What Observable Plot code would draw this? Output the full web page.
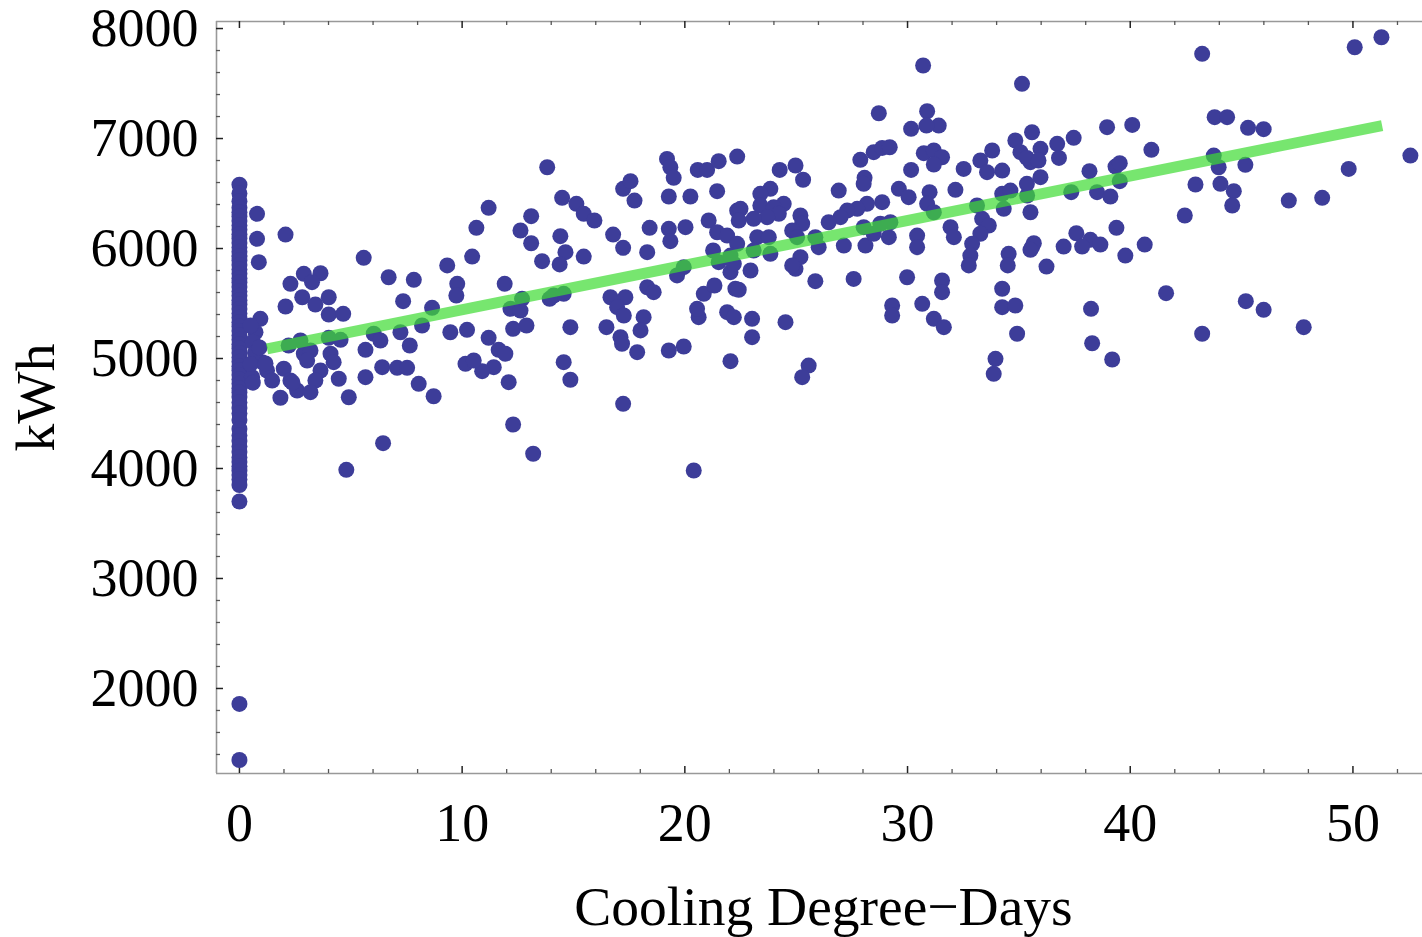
<!DOCTYPE html>
<html>
<head>
<meta charset="utf-8">
<script src="https://cdn.jsdelivr.net/npm/d3@7"></script>
<script src="https://cdn.jsdelivr.net/npm/@observablehq/plot@0.6"></script>
<style>
  html, body { margin: 0; padding: 0; background: #fff; }
  #chart svg { display: block; }
</style>
</head>
<body>
<div id="chart"></div>
<script>
// ---- Data ----
// Points with 0 cooling degree-days (kWh values)
const zeroCddKwh = [6580, 6500, 6430, 6370, 6330, 6290, 6250, 6210, 6170, 6130, 6090, 6050, 6010, 5970, 5930,
  5890, 5850, 5810, 5770, 5730, 5690, 5650, 5610, 5570, 5530, 5490, 5450, 5410, 5370, 5330, 5290, 5250,
  5210, 5170, 5130, 5090, 5050, 5010, 4970, 4930, 4890, 4850, 4810, 4770, 4730, 4690, 4650, 4600, 4550,
  4500, 4440, 4360, 4300, 4250, 4200, 4150, 4100, 4060, 4020, 3980, 3940, 3900, 3850, 3700, 1860, 1350];

// Points with positive cooling degree-days
const cdd = [
  0.79, 0.79, 0.87, 2.07, 0.94, 0.72, 5.58, 6.70, 7.83, 9.33, 2.89, 3.64, 3.26, 2.29, 2.82, 3.41, 4.01, 2.07,
  4.01, 4.66, 7.35, 8.65, 8.20, 9.47, 7.23, 6.03, 6.33, 5.66, 7.65, 2.74, 2.21, 4.01, 4.54, 2.89, 3.19, 3.04,
  4.09, 4.23, 1.02, 1.24, 1.99, 3.64, 3.41, 2.29, 1.47, 2.59, 3.19, 1.84, 4.46, 5.66, 6.41, 7.08, 7.53, 8.05,
  8.72, 4.91, 6.45, 4.80, 0.57, 0.5, 0.6, 0.7, 0.5, 0.9, 1.17, 2.38, 0.6,
  13.82, 11.19, 10.64, 10.45, 9.78, 9.74, 11.91, 12.62, 13.10, 13.10, 13.59, 14.41, 14.49, 15.13, 15.46, 15.94,
  14.64, 14.38, 15.46, 16.78, 17.23, 17.23, 17.56, 17.74, 18.42, 18.31, 19.28, 19.35, 20.03, 19.20, 19.35,
  19.50, 19.28, 20.25, 20.58, 21.00, 21.52, 22.35, 21.45, 21.07, 21.45, 21.90, 22.35, 21.27, 21.52, 22.05,
  19.95, 19.65, 18.31, 18.60, 16.66, 17.33, 16.96, 17.26, 18.15, 18.01, 16.48, 17.11, 17.18, 17.86, 19.28,
  19.95, 22.05, 20.62, 20.55, 20.85, 21.33, 21.90, 22.20, 22.27, 20.40, 17.23, 14.86, 14.56, 14.86, 14.56,
  14.11, 13.93, 12.69, 12.17, 12.62, 12.29, 12.89, 11.19, 11.64, 11.94, 11.42, 10.90, 10.15, 10.52, 12.09,
  10.22, 12.29, 13.19,
  28.71, 30.88, 31.40, 30.16, 30.85, 24.26, 24.97, 25.31, 27.88, 28.48, 28.86, 29.20, 28.07, 28.03, 30.16,
  30.73, 31.18, 31.55, 31.18, 32.52, 33.27, 33.80, 33.57, 34.25, 34.84, 35.59, 35.07, 35.52, 26.91, 29.61,
  30.05, 30.99, 32.15, 30.88, 31.18, 33.12, 34.25, 34.62, 35.37, 34.32, 35.52, 33.35, 33.65, 33.27, 32.90,
  32.82, 32.75, 31.93, 32.08, 30.43, 30.43, 29.16, 29.23, 28.78, 28.86, 28.18, 27.74, 27.29, 26.99, 26.46,
  28.03, 28.11, 27.14, 28.48, 26.01, 25.86, 25.19, 25.27, 24.82, 25.04, 24.44, 23.84, 23.39, 23.39, 23.99,
  24.22, 23.70, 22.50, 22.42, 23.09, 23.25, 23.77, 22.35, 23.84, 23.09, 22.05, 22.20, 22.95, 22.42, 24.97,
  25.19, 25.86, 27.58, 29.98, 31.55, 31.55, 29.31, 29.31, 30.66, 31.18, 31.63, 34.54, 34.50, 35.59, 34.25,
  34.25, 34.84, 34.92, 33.95, 33.87, 23.02, 23.02, 24.52, 25.56, 25.27, 24.82, 30.70,
  43.23, 50.08, 51.28, 35.14, 43.79, 44.35, 45.29, 45.99, 38.96, 40.09, 37.46, 36.72, 35.97, 36.80, 35.36,
  35.88, 40.95, 52.58, 49.81, 43.75, 43.97, 45.17, 44.05, 44.65, 44.58, 42.93, 42.45, 47.12, 48.62, 38.17,
  39.34, 39.53, 39.53, 38.51, 39.11, 37.35, 35.97, 35.36, 37.58, 38.21, 38.66, 37.84, 37.01, 35.67, 35.52,
  36.24, 39.38, 39.78, 40.65, 41.61, 38.24, 38.29, 39.19, 43.23, 45.19, 45.99, 47.79
];
const kwh = [
  6315, 6088, 5876, 6127, 5361, 5239, 5915, 5739, 5715, 5846, 5770, 5775, 5694, 5679, 5557, 5491, 5557, 5473,
  5400, 5406, 5521, 5461, 5300, 5239, 5239, 5225, 5164, 5079, 5118, 5164, 5118, 5188, 5170, 5043, 5073, 4982,
  5043, 4967, 4967, 4891, 4907, 4891, 4800, 4800, 4800, 4709, 4694, 4643, 4816, 4830, 4921, 4915, 4915, 4770,
  4657, 4648, 4230, 3988, 4830, 5300, 5150, 5050, 4950, 5100, 4955, 4782, 4780,
  6739, 6370, 6188, 5927, 5679, 5573, 5679, 6164, 6294, 6048, 5885, 6112, 6461, 6406, 6315, 6255,
  5967, 5855, 5927, 6127, 6006, 6543, 6612, 6436, 6188, 5967, 6179, 6067, 6194, 6815, 6739,
  6643, 6473, 6473, 6715, 6715, 6794, 6836, 6521, 6255, 6148, 6118, 6345, 5982, 5876, 5785,
  5830, 5755, 5648, 5603, 5557, 5557, 5467, 5391, 5376, 5255, 5285, 5194, 5134, 5058, 5073,
  5109, 4976, 5376, 5452, 5588, 5664, 5421, 5376, 5634, 3982, 4588, 4807, 4967, 5285, 5588,
  5573, 5543, 5543, 5452, 5436, 5270, 5300, 5188, 5079, 5043, 4921, 4885, 4952, 4982, 4785,
  5261, 4400, 4134,
  7230, 7248, 7118, 7088, 7118, 6715, 6755, 6625, 6806, 6876, 6915, 6921, 6643, 6588, 6715,
  6867, 6891, 6830, 6764, 6724, 6800, 6891, 6694, 6709, 6982, 7057, 6876, 6785, 6527, 6543,
  6467, 6512, 6534, 6406, 6330, 6391, 6497, 6527, 6482, 6361, 6330, 6270, 6209, 6134, 6043,
  5936, 5846, 6194, 6103, 6118, 6012, 6103, 6239, 6225, 6421, 6406, 6361, 6345, 6285, 6239,
  6194, 6027, 6027, 6134, 6012, 6103, 6300, 6225, 6164, 6103, 6406, 6543, 6497, 6391, 6376,
  6315, 6285, 6361, 6255, 6270, 6103, 6103, 6043, 5952, 5982, 5936, 5861, 5800, 5625, 5815,
  5921, 5703, 5724, 5739, 5709, 5603, 5482, 5391, 5497, 5361, 5285, 5952, 5846, 6012, 5634,
  5467, 5482, 5225, 4997, 4861, 5361, 5194, 5330, 4936, 4830, 5846, 7664,
  7770, 7830, 7921, 7497, 7194, 7194, 7097, 7085, 7103, 7124, 7006, 6952, 6906, 6824, 6824,
  6800, 6897, 6845, 6724, 6845, 6739, 6761, 6588, 6521, 6391, 6582, 6300, 6436, 6461, 6703,
  6745, 6776, 6612, 6512, 6473, 6512, 6649, 6588, 6139, 6079, 6036, 6018, 6018, 6048, 5988,
  5836, 6188, 5936, 6036, 5594, 5452, 5139, 4991, 5225, 5521, 5443, 5285
];

// Fitted line end points
const fitCdd = [1.24, 51.31];
const fitKwh = [5088, 7118];

// Axis ticks
const xMajor = [0, 10, 20, 30, 40, 50];
const xMinor = [2, 4, 6, 8, 12, 14, 16, 18, 22, 24, 26, 28, 32, 34, 36, 38, 42, 44, 46, 48, 52];
const yMajor = [2000, 3000, 4000, 5000, 6000, 7000, 8000];
const yMinor = [1400, 1600, 1800, 2200, 2400, 2600, 2800, 3200, 3400, 3600, 3800, 4200, 4400, 4600, 4800,
  5200, 5400, 5600, 5800, 6200, 6400, 6600, 6800, 7200, 7400, 7600, 7800];

// ---- Build tables ----
const points = zeroCddKwh.map(v => ({cdd: 0, kwh: v}))
  .concat(cdd.map((c, i) => ({cdd: c, kwh: kwh[i]})));
const fit = fitCdd.map((c, i) => ({cdd: c, kwh: fitKwh[i]}));

const W = 1422, H = 937;
const mL = 216, mR = 0, mT = 21, mB = 164;
const plotW = W - mL - mR, plotH = H - mT - mB;
const xDomain = [-1.03, 53.3];
const yDomain = [1227, 8064];
const majorLen = 7, minorLen = 4;
const fontFam = "'Liberation Serif', 'Times New Roman', serif";

const chart = Plot.plot({
  width: W, height: H,
  marginLeft: mL, marginRight: mR, marginTop: mT, marginBottom: mB,
  style: {fontFamily: fontFam, fontSize: "54px", background: "#fff", color: "#000", overflow: "hidden"},
  x: {domain: xDomain, range: [mL, mL + (53.3 + 1.03) * 22.27]},
  y: {domain: yDomain},
  marks: [
    // frame lines (left, top, bottom)
    Plot.ruleX([xDomain[0]], {stroke: "#999", strokeWidth: 1.6}),
    Plot.ruleY([yDomain[0], yDomain[1]], {stroke: "#999", strokeWidth: 1.6}),
    // bottom ticks
    Plot.ruleX(xMinor, {x: d => d, insetTop: plotH - minorLen, stroke: "#555", strokeWidth: 1.3}),
    Plot.ruleX(xMajor, {x: d => d, insetTop: plotH - majorLen, stroke: "#222", strokeWidth: 1.5}),
    // top ticks
    Plot.ruleX(xMinor, {x: d => d, insetBottom: plotH - minorLen, stroke: "#555", strokeWidth: 1.3}),
    Plot.ruleX(xMajor, {x: d => d, insetBottom: plotH - majorLen, stroke: "#222", strokeWidth: 1.5}),
    // left ticks
    Plot.ruleY(yMinor, {y: d => d, insetRight: plotW - minorLen, stroke: "#555", strokeWidth: 1.3}),
    Plot.ruleY(yMajor, {y: d => d, insetRight: plotW - majorLen, stroke: "#222", strokeWidth: 1.5}),
    // tick labels
    Plot.axisX({ticks: xMajor, tickSize: 0, tickPadding: 29, tickFormat: d => String(d), label: null, fontSize: 54}),
    Plot.axisY({ticks: yMajor, tickSize: 0, tickPadding: 18, tickFormat: d => String(d), label: null, fontSize: 54}),
    // axis titles
    Plot.text(["Cooling Degree\u2212Days"], {frameAnchor: "bottom", dy: 134, dx: 4, fontSize: 55.5, text: d => d, textAnchor: "middle", lineAnchor: "middle"}),
    Plot.text(["kWh"], {frameAnchor: "left", dx: -180, rotate: -90, fontSize: 55.5, text: d => d, textAnchor: "middle", lineAnchor: "middle"}),
    // data
    Plot.dot(points, {x: "cdd", y: "kwh", r: 8, fill: "#3d3d99", stroke: null}),
    Plot.line(fit, {x: "cdd", y: "kwh", stroke: "#3ddc32", strokeOpacity: 0.7, strokeWidth: 11, strokeLinecap: "butt"})
  ]
});
document.getElementById("chart").appendChild(chart);
</script>
</body>
</html>
